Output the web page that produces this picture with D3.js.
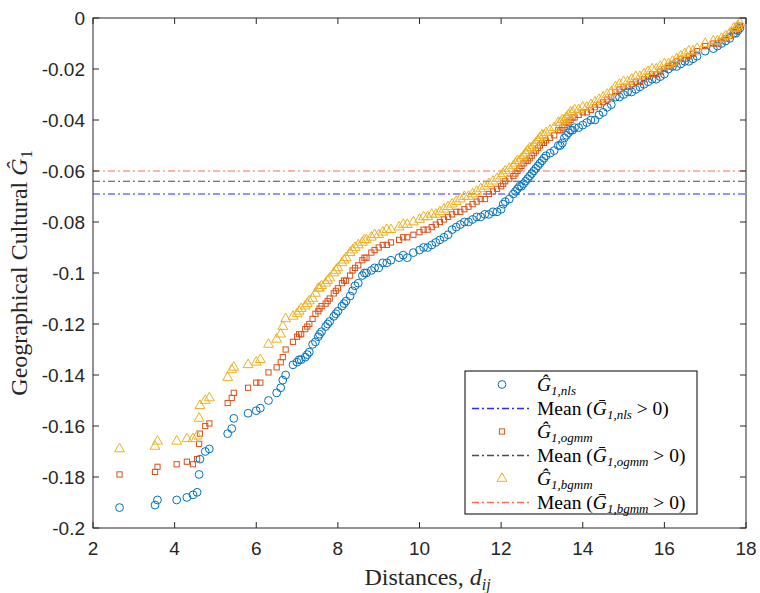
<!DOCTYPE html>
<html><head><meta charset="utf-8">
<script src="https://cdn.jsdelivr.net/npm/d3@7"></script>
<style>body{margin:0;background:#fff}svg{display:block}</style>
</head><body>
<svg id="c" width="760" height="593"></svg>
<script>
const dist = [2.65,3.52,3.58,4.05,4.30,4.45,4.55,4.60,4.62,4.75,4.85,5.30,5.40,5.45,5.80,6.00,6.10,6.30,6.50,6.60,6.65,6.72,6.90,7.00,7.05,7.10,7.20,7.25,7.30,7.38,7.45,7.52,7.55,7.60,7.70,7.75,7.80,7.90,7.95,8.00,8.10,8.15,8.20,8.30,8.36,8.42,8.50,8.60,8.65,8.70,8.82,8.90,9.00,9.10,9.20,9.30,9.50,9.60,9.70,9.85,10.00,10.10,10.20,10.30,10.40,10.50,10.60,10.70,10.80,10.90,11.00,11.10,11.20,11.30,11.40,11.50,11.60,11.70,11.80,11.90,12.00,12.05,12.10,12.20,12.30,12.35,12.40,12.45,12.50,12.55,12.60,12.65,12.70,12.75,12.80,12.85,12.90,12.95,13.00,13.05,13.10,13.20,13.30,13.40,13.45,13.50,13.55,13.60,13.65,13.70,13.75,13.80,13.90,14.00,14.10,14.20,14.30,14.40,14.50,14.60,14.70,14.80,14.90,15.00,15.10,15.20,15.30,15.40,15.50,15.60,15.70,15.80,15.90,16.00,16.10,16.20,16.30,16.40,16.50,16.60,16.70,16.80,17.00,17.20,17.30,17.40,17.50,17.60,17.70,17.75,17.80,17.85];
const gNls = [-0.192,-0.191,-0.189,-0.189,-0.188,-0.187,-0.186,-0.179,-0.173,-0.170,-0.169,-0.163,-0.161,-0.157,-0.155,-0.154,-0.153,-0.150,-0.147,-0.145,-0.142,-0.140,-0.136,-0.135,-0.134,-0.134,-0.133,-0.132,-0.131,-0.128,-0.127,-0.125,-0.124,-0.123,-0.121,-0.120,-0.119,-0.117,-0.116,-0.115,-0.113,-0.112,-0.111,-0.109,-0.107,-0.105,-0.104,-0.101,-0.100,-0.100,-0.099,-0.098,-0.098,-0.096,-0.096,-0.095,-0.094,-0.093,-0.094,-0.092,-0.091,-0.090,-0.090,-0.089,-0.088,-0.087,-0.086,-0.085,-0.083,-0.082,-0.081,-0.080,-0.080,-0.079,-0.078,-0.078,-0.077,-0.077,-0.076,-0.076,-0.075,-0.073,-0.072,-0.071,-0.069,-0.068,-0.067,-0.066,-0.066,-0.065,-0.064,-0.063,-0.062,-0.061,-0.060,-0.059,-0.058,-0.057,-0.056,-0.055,-0.054,-0.053,-0.052,-0.050,-0.050,-0.049,-0.047,-0.046,-0.045,-0.044,-0.044,-0.043,-0.043,-0.042,-0.041,-0.040,-0.040,-0.038,-0.037,-0.035,-0.034,-0.031,-0.031,-0.030,-0.029,-0.029,-0.028,-0.027,-0.026,-0.025,-0.024,-0.024,-0.023,-0.022,-0.020,-0.019,-0.019,-0.018,-0.017,-0.017,-0.016,-0.015,-0.013,-0.012,-0.011,-0.010,-0.009,-0.008,-0.006,-0.006,-0.005,-0.004];
const gOgmm = [-0.179,-0.178,-0.176,-0.175,-0.174,-0.175,-0.173,-0.167,-0.163,-0.160,-0.159,-0.151,-0.149,-0.147,-0.145,-0.143,-0.143,-0.139,-0.137,-0.135,-0.133,-0.130,-0.127,-0.125,-0.124,-0.124,-0.122,-0.121,-0.120,-0.118,-0.116,-0.115,-0.114,-0.113,-0.112,-0.111,-0.110,-0.108,-0.107,-0.106,-0.104,-0.103,-0.103,-0.101,-0.099,-0.098,-0.097,-0.095,-0.094,-0.094,-0.092,-0.091,-0.090,-0.089,-0.089,-0.088,-0.087,-0.086,-0.086,-0.085,-0.084,-0.083,-0.083,-0.082,-0.081,-0.080,-0.079,-0.078,-0.077,-0.076,-0.076,-0.075,-0.074,-0.073,-0.072,-0.071,-0.071,-0.069,-0.068,-0.067,-0.066,-0.065,-0.064,-0.063,-0.062,-0.061,-0.060,-0.059,-0.058,-0.057,-0.056,-0.056,-0.055,-0.054,-0.053,-0.052,-0.051,-0.050,-0.049,-0.049,-0.048,-0.047,-0.046,-0.044,-0.044,-0.043,-0.042,-0.041,-0.041,-0.040,-0.039,-0.039,-0.038,-0.037,-0.037,-0.036,-0.035,-0.034,-0.033,-0.032,-0.031,-0.029,-0.028,-0.027,-0.027,-0.026,-0.025,-0.025,-0.024,-0.023,-0.022,-0.022,-0.021,-0.020,-0.019,-0.018,-0.017,-0.016,-0.016,-0.015,-0.014,-0.013,-0.011,-0.010,-0.010,-0.009,-0.008,-0.007,-0.005,-0.005,-0.004,-0.003];
const gBgmm = [-0.169,-0.168,-0.166,-0.166,-0.165,-0.165,-0.164,-0.157,-0.152,-0.150,-0.149,-0.141,-0.138,-0.137,-0.136,-0.135,-0.134,-0.128,-0.126,-0.124,-0.121,-0.118,-0.117,-0.116,-0.115,-0.114,-0.113,-0.112,-0.111,-0.110,-0.108,-0.106,-0.106,-0.105,-0.104,-0.103,-0.102,-0.100,-0.099,-0.098,-0.096,-0.095,-0.094,-0.092,-0.091,-0.090,-0.089,-0.088,-0.087,-0.087,-0.086,-0.085,-0.085,-0.084,-0.083,-0.083,-0.082,-0.081,-0.081,-0.080,-0.079,-0.078,-0.078,-0.077,-0.077,-0.076,-0.075,-0.074,-0.073,-0.072,-0.071,-0.070,-0.070,-0.069,-0.068,-0.067,-0.066,-0.065,-0.064,-0.063,-0.062,-0.061,-0.060,-0.059,-0.058,-0.057,-0.056,-0.056,-0.055,-0.054,-0.053,-0.052,-0.051,-0.051,-0.050,-0.049,-0.048,-0.047,-0.046,-0.046,-0.045,-0.044,-0.043,-0.041,-0.041,-0.040,-0.040,-0.039,-0.038,-0.037,-0.037,-0.036,-0.036,-0.035,-0.035,-0.034,-0.033,-0.032,-0.031,-0.030,-0.029,-0.027,-0.026,-0.025,-0.025,-0.024,-0.023,-0.023,-0.022,-0.021,-0.020,-0.020,-0.019,-0.018,-0.018,-0.017,-0.016,-0.015,-0.014,-0.013,-0.013,-0.012,-0.010,-0.009,-0.009,-0.008,-0.007,-0.006,-0.004,-0.004,-0.003,-0.002];
const meanValues = [-0.069, -0.064, -0.060];
const xTicks = [2,4,6,8,10,12,14,16,18];
const yTicks = [0,-0.02,-0.04,-0.06,-0.08,-0.1,-0.12,-0.14,-0.16,-0.18,-0.2];

const L=93,R=746,T=18,B=528;
const svg=d3.select('#c');
const x=d3.scaleLinear().domain([2,18]).range([L,R]);
const y=d3.scaleLinear().domain([-0.2,0]).range([B,T]);
const axC='#262626';
const tickFmt=d=>d===0?'0':String(+d.toFixed(2));

const cNls='#0072BD', cOg='#D95319', cBg='#EDB120';
const mCols=['#2b2bff','#4a4a58','#ff6a55'];
const dashes='7,3,2,3';

svg.append('g').selectAll('line').data(meanValues).join('line')
  .attr('x1',L).attr('x2',R).attr('y1',d=>y(d)).attr('y2',d=>y(d))
  .attr('stroke',(d,i)=>mCols[i]).attr('stroke-width',1.1)
  .attr('stroke-dasharray',dashes);

const pts=dist.map((d,i)=>({x:d,a:gNls[i],b:gOgmm[i],c:gBgmm[i]}));
const gp=svg.append('g');
gp.selectAll('circle').data(pts).join('circle')
  .attr('cx',d=>x(d.x)).attr('cy',d=>y(d.a)).attr('r',3.9)
  .attr('fill','none').attr('stroke',cNls).attr('stroke-width',1);
gp.selectAll('rect').data(pts).join('rect')
  .attr('x',d=>x(d.x)-2.6).attr('y',d=>y(d.b)-2.6).attr('width',5.2).attr('height',5.2)
  .attr('fill','none').attr('stroke',cOg).attr('stroke-width',1);
const tri=d3.symbol().type(d3.symbolTriangle).size(42);
gp.selectAll('path.t').data(pts).join('path').attr('class','t')
  .attr('d',tri).attr('transform',d=>`translate(${x(d.x)},${y(d.c)})`)
  .attr('fill','none').attr('stroke',cBg).attr('stroke-width',1);

const ax=svg.append('g').attr('font-family','"Liberation Sans",Arial,sans-serif').attr('font-size',19).attr('fill',axC);
ax.append('rect').attr('x',L).attr('y',T).attr('width',R-L).attr('height',B-T).attr('fill','none').attr('stroke',axC).attr('stroke-width',1);
const tl=6;
xTicks.forEach(t=>{
  ax.append('line').attr('x1',x(t)).attr('x2',x(t)).attr('y1',B).attr('y2',B-tl).attr('stroke',axC);
  ax.append('line').attr('x1',x(t)).attr('x2',x(t)).attr('y1',T).attr('y2',T+tl).attr('stroke',axC);
  ax.append('text').attr('x',x(t)).attr('y',B+27).attr('text-anchor','middle').text(t);
});
yTicks.forEach(t=>{
  ax.append('line').attr('x1',L).attr('x2',L+tl).attr('y1',y(t)).attr('y2',y(t)).attr('stroke',axC);
  ax.append('line').attr('x1',R).attr('x2',R-tl).attr('y1',y(t)).attr('y2',y(t)).attr('stroke',axC);
  ax.append('text').attr('x',L-8).attr('y',y(t)+7).attr('text-anchor','end').text(tickFmt(t));
});

const serif='"Liberation Serif","Times New Roman",serif';
const xl=svg.append('text').attr('x',(L+R)/2+8).attr('y',B+57).attr('text-anchor','middle')
  .attr('font-family',serif).attr('font-size',24).attr('fill',axC);
xl.append('tspan').text('Distances, ');
xl.append('tspan').attr('font-style','italic').text('d');
xl.append('tspan').attr('font-style','italic').attr('font-size',16).attr('dy',5).text('ij');
const yl=svg.append('text').attr('transform',`translate(27,${(T+B)/2}) rotate(-90)`).attr('text-anchor','middle')
  .attr('font-family',serif).attr('font-size',24).attr('fill',axC);
yl.append('tspan').text('Geographical Cultural ');
yl.append('tspan').attr('font-style','italic').text('G\u0302');
yl.append('tspan').attr('font-size',16).attr('dy',5).text('1');

const lg=svg.append('g');
const lx=465, ly=371, lw=232, lh=143;
lg.append('rect').attr('x',lx).attr('y',ly).attr('width',lw).attr('height',lh).attr('fill','#fff').attr('stroke','#000').attr('stroke-width',1);
const rows=[
 {type:'circle',col:cNls,sub:'1,nls'},
 {type:'line',col:mCols[0],sub:'1,nls'},
 {type:'square',col:cOg,sub:'1,ogmm'},
 {type:'line',col:mCols[1],sub:'1,ogmm'},
 {type:'tri',col:cBg,sub:'1,bgmm'},
 {type:'line',col:mCols[2],sub:'1,bgmm'}];
rows.forEach((r,i)=>{
  const cy=Math.round(ly+13+i*23.5)+0.5;
  const mx=lx+37;
  if(r.type==='circle') lg.append('circle').attr('cx',mx).attr('cy',cy).attr('r',3.9).attr('fill','none').attr('stroke',r.col);
  if(r.type==='square') lg.append('rect').attr('x',mx-2.6).attr('y',cy-2.6).attr('width',5.2).attr('height',5.2).attr('fill','none').attr('stroke',r.col);
  if(r.type==='tri') lg.append('path').attr('d',tri).attr('transform',`translate(${mx},${cy})`).attr('fill','none').attr('stroke',r.col);
  if(r.type==='line') lg.append('line').attr('x1',lx+7).attr('x2',lx+67).attr('y1',cy).attr('y2',cy).attr('stroke',r.col).attr('stroke-width',1.3).attr('stroke-dasharray',dashes);
  const t=lg.append('text').attr('x',lx+72).attr('y',cy+6).attr('font-family',serif).attr('font-size',19.5).attr('fill','#000');
  if(r.type==='line'){
    t.append('tspan').text('Mean (');
    t.append('tspan').attr('font-style','italic').text('G\u0304');
    t.append('tspan').attr('font-style','italic').attr('font-size',13).attr('dy',4).text(r.sub);
    t.append('tspan').attr('dy',-4).text(' > 0)');
  } else {
    t.append('tspan').attr('font-style','italic').text('G\u0302');
    t.append('tspan').attr('font-style','italic').attr('font-size',13).attr('dy',4).text(r.sub);
  }
});
</script>
</body></html>
